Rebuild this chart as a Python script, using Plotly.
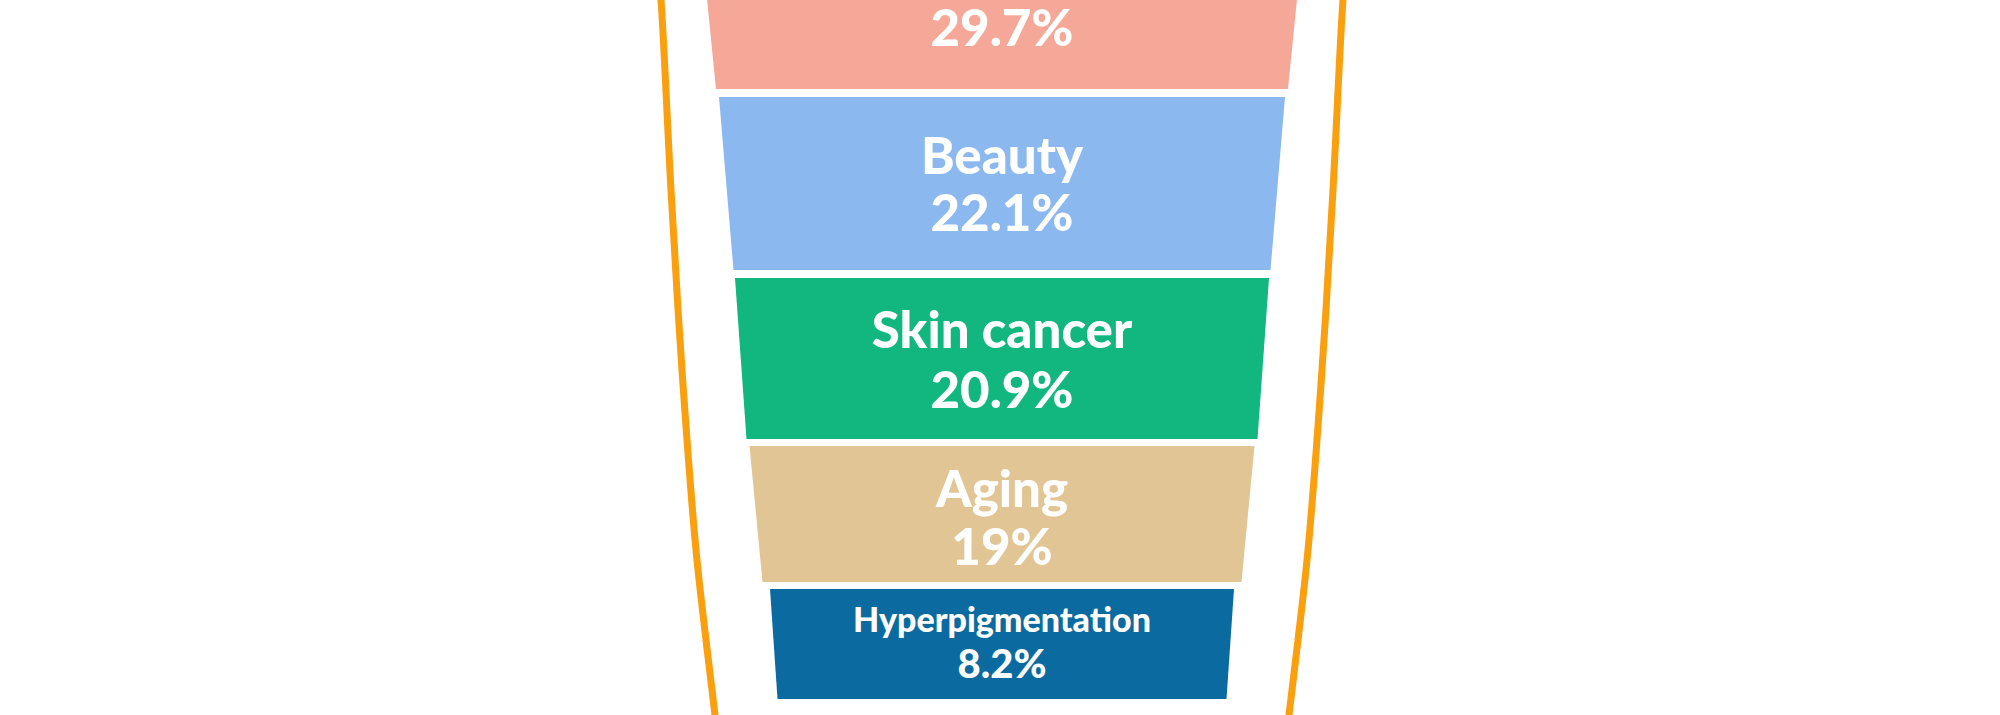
import plotly.graph_objects as go

# ---- data ----
reasons = ["Sunburn", "Beauty", "Skin cancer", "Aging", "Hyperpigmentation"]
shares = [29.7, 22.1, 20.9, 19, 8.2]
band_colors = ["#F5A798", "#8BB8EE", "#12B77F", "#E1C594", "#0B6BA0"]

# ---- layout geometry (pixel units of the 2000x715 canvas) ----
CX = 1002
band_top = [-91, 97, 278, 446, 589]
band_bot = [89, 270, 439, 582, 699]
half_top = [304, 283, 267, 252.5, 232]
half_bot = [286, 268.5, 255.5, 239.5, 224.5]
name_size = [51, 51, 51, 51, 34]
pct_size = [51, 51, 51, 51, 40]
name_off = [-22, -22, -23, -20, -21]
pct_off = [34, 35, 37, 38, 24]

tube_y = [-30, 0, 190, 370, 550, 640, 740]
tube_half = [344, 341, 331, 320, 306, 296, 284]

fig = go.Figure()

# tube outline
for sgn in (-1, 1):
    fig.add_trace(go.Scatter(
        x=[CX + sgn * h for h in tube_half], y=tube_y, mode="lines",
        line=dict(color="#FA9F0E", width=7, shape="spline"),
        hoverinfo="skip", showlegend=False))

# bands
for i, r in enumerate(reasons):
    xs = [CX - half_top[i], CX + half_top[i], CX + half_bot[i], CX - half_bot[i], CX - half_top[i]]
    ys = [band_top[i], band_top[i], band_bot[i], band_bot[i], band_top[i]]
    fig.add_trace(go.Scatter(
        x=xs, y=ys, mode="lines", fill="toself", fillcolor=band_colors[i],
        line=dict(width=0, color=band_colors[i]), name=r,
        hoverinfo="skip", showlegend=False))

# labels (a name that falls above the cropped top edge is not drawn)
font = "Lato, 'Open Sans', sans-serif"
for i, r in enumerate(reasons):
    cy = (band_top[i] + band_bot[i]) / 2
    if cy + name_off[i] - name_size[i] / 2 > 0:
        fig.add_trace(go.Scatter(
            x=[CX], y=[cy + name_off[i]], mode="text", text=[r],
            textposition="middle center",
            textfont=dict(family=font, size=name_size[i], color="white", weight=900),
            hoverinfo="skip", showlegend=False))
    pct = f"{shares[i]:g}%"
    fig.add_trace(go.Scatter(
        x=[CX], y=[cy + pct_off[i]], mode="text", text=[pct],
        textposition="middle center",
        textfont=dict(family=font, size=pct_size[i], color="white", weight=900),
        hoverinfo="skip", showlegend=False))

fig.update_layout(
    width=2000, height=715,
    margin=dict(l=0, r=0, t=0, b=0),
    paper_bgcolor="white", plot_bgcolor="white",
    xaxis=dict(range=[0, 2000], visible=False, fixedrange=True),
    yaxis=dict(range=[715, 0], visible=False, fixedrange=True),
    showlegend=False,
)

fig.write_html("out.html", config={"displayModeBar": False},
               post_script="document.body.style.margin='0';")
